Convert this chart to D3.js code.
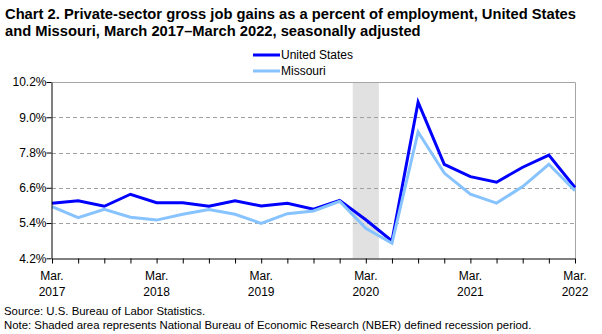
<!DOCTYPE html>
<html><head><meta charset="utf-8">
<script src="https://cdn.jsdelivr.net/npm/d3@7"></script>
<style>
body{margin:0;background:#fff;}
svg{display:block;font-family:"Liberation Sans",Arial,sans-serif;}
</style></head>
<body><svg id="c" width="602" height="334"></svg>
<script>
const quarters = ["Mar. 2017","Jun. 2017","Sep. 2017","Dec. 2017","Mar. 2018","Jun. 2018","Sep. 2018","Dec. 2018","Mar. 2019","Jun. 2019","Sep. 2019","Dec. 2019","Mar. 2020","Jun. 2020","Sep. 2020","Dec. 2020","Mar. 2021","Jun. 2021","Sep. 2021","Dec. 2021","Mar. 2022"];
const usValues = [6.07,6.16,5.97,6.38,6.09,6.09,5.97,6.16,5.98,6.07,5.87,6.17,5.51,4.79,9.51,7.40,6.98,6.79,7.30,7.71,6.61];
const moValues = [5.96,5.58,5.87,5.60,5.50,5.70,5.86,5.70,5.39,5.72,5.81,6.14,5.22,4.71,8.50,7.10,6.38,6.08,6.64,7.40,6.50];
const yTicks = [4.2,5.4,6.6,7.8,9.0,10.2];
const xLabelIdx = [0,4,8,12,16,20];
const xLabelMonth = ["Mar.","Mar.","Mar.","Mar.","Mar.","Mar."];
const xLabelYear = ["2017","2018","2019","2020","2021","2022"];
const recession = [11.5,12.5];
const titleLines = ["Chart 2. Private-sector gross job gains as a percent of employment, United States","and Missouri, March 2017\u2013March 2022, seasonally adjusted"];
const notes = ["Source: U.S. Bureau of Labor Statistics.","Note: Shaded area represents National Bureau of Economic Research (NBER) defined recession period."];
const seriesNames = ["United States","Missouri"];
const colors = ["#0000ff","#87c3ff"];

const svg = d3.select("#c");
const L=52,R=575,T=82,B=258.3;
const x = d3.scaleLinear().domain([0,quarters.length-1]).range([L,R]);
const y = d3.scaleLinear().domain([4.2,10.2]).range([B,T]);

function fitText(sel, target){
  const n = sel.node(); const fs = parseFloat(sel.attr("font-size"));
  const w = n.getComputedTextLength();
  sel.attr("font-size", fs*target/w);
}

// title
const t1 = svg.append("text").attr("x",5).attr("y",18.5).attr("font-weight","bold").attr("font-size",13).text(titleLines[0]);
fitText(t1,571);
const t2 = svg.append("text").attr("x",5).attr("y",35.5).attr("font-weight","bold").attr("font-size",t1.attr("font-size")).text(titleLines[1]);

// recession
svg.append("rect").attr("x",x(recession[0])).attr("y",T).attr("width",x(recession[1])-x(recession[0])).attr("height",B-T).attr("fill","#e1e1e1");

// grid
svg.append("g").selectAll("line").data(yTicks.slice(1,-1)).join("line")
  .attr("x1",L).attr("x2",R).attr("y1",d=>Math.round(y(d))+0.5).attr("y2",d=>Math.round(y(d))+0.5)
  .attr("stroke","#a0a0a0").attr("stroke-dasharray","4,3");
// top & right border
svg.append("path").attr("d",`M${L},${Math.round(T)+0.5}H${R+0.5}V${B}`).attr("fill","none").attr("stroke","#a6a6a6");

// lines
const line = d3.line().x((d,i)=>x(i)).y(d=>y(d));
[usValues,moValues].forEach((vals,k)=>{
  svg.append("path").datum(vals).attr("d",line).attr("fill","none").attr("stroke",colors[k]).attr("stroke-width",3).attr("stroke-linejoin","miter");
});

// y axis
const ya = svg.append("g").attr("transform",`translate(${L-0.5},0)`).call(d3.axisLeft(y).tickValues(yTicks).tickFormat(d=>d.toFixed(1)+"%").tickSize(5).tickSizeOuter(0));
ya.select(".domain").attr("stroke","#000");
ya.selectAll("text").attr("font-size",12).attr("font-family","Liberation Sans, Arial, sans-serif").attr("fill","#000").attr("x",-5);
// x axis
const xa = svg.append("g").attr("transform",`translate(0,${Math.round(B)+0.5})`).call(d3.axisBottom(x).tickValues(d3.range(quarters.length)).tickFormat("").tickSize(5).tickSizeOuter(0));
xa.select(".domain").attr("stroke","#000");
const xl = svg.append("g");
xl.selectAll("text.m").data(xLabelIdx).join("text").attr("class","m").attr("x",d=>x(d)).attr("y",279.5).attr("text-anchor","middle").attr("font-size",12).text((d,i)=>xLabelMonth[i]);
xl.selectAll("text.yr").data(xLabelIdx).join("text").attr("class","yr").attr("x",d=>x(d)).attr("y",295.5).attr("text-anchor","middle").attr("font-size",12).text((d,i)=>xLabelYear[i]);

// legend
seriesNames.forEach((nm,k)=>{
  const yy = 55 + k*16;
  svg.append("line").attr("x1",253).attr("x2",280).attr("y1",yy).attr("y2",yy).attr("stroke",colors[k]).attr("stroke-width",3);
  svg.append("text").attr("x",281).attr("y",yy+4.3).attr("font-size",12).text(nm);
});

// notes
const n1 = svg.append("text").attr("x",4).attr("y",315).attr("font-size",11).text(notes[0]);
const n2 = svg.append("text").attr("x",4).attr("y",329).attr("font-size",11).text(notes[1]);
fitText(n2,528);
n1.attr("font-size",n2.attr("font-size"));
</script></body></html>
